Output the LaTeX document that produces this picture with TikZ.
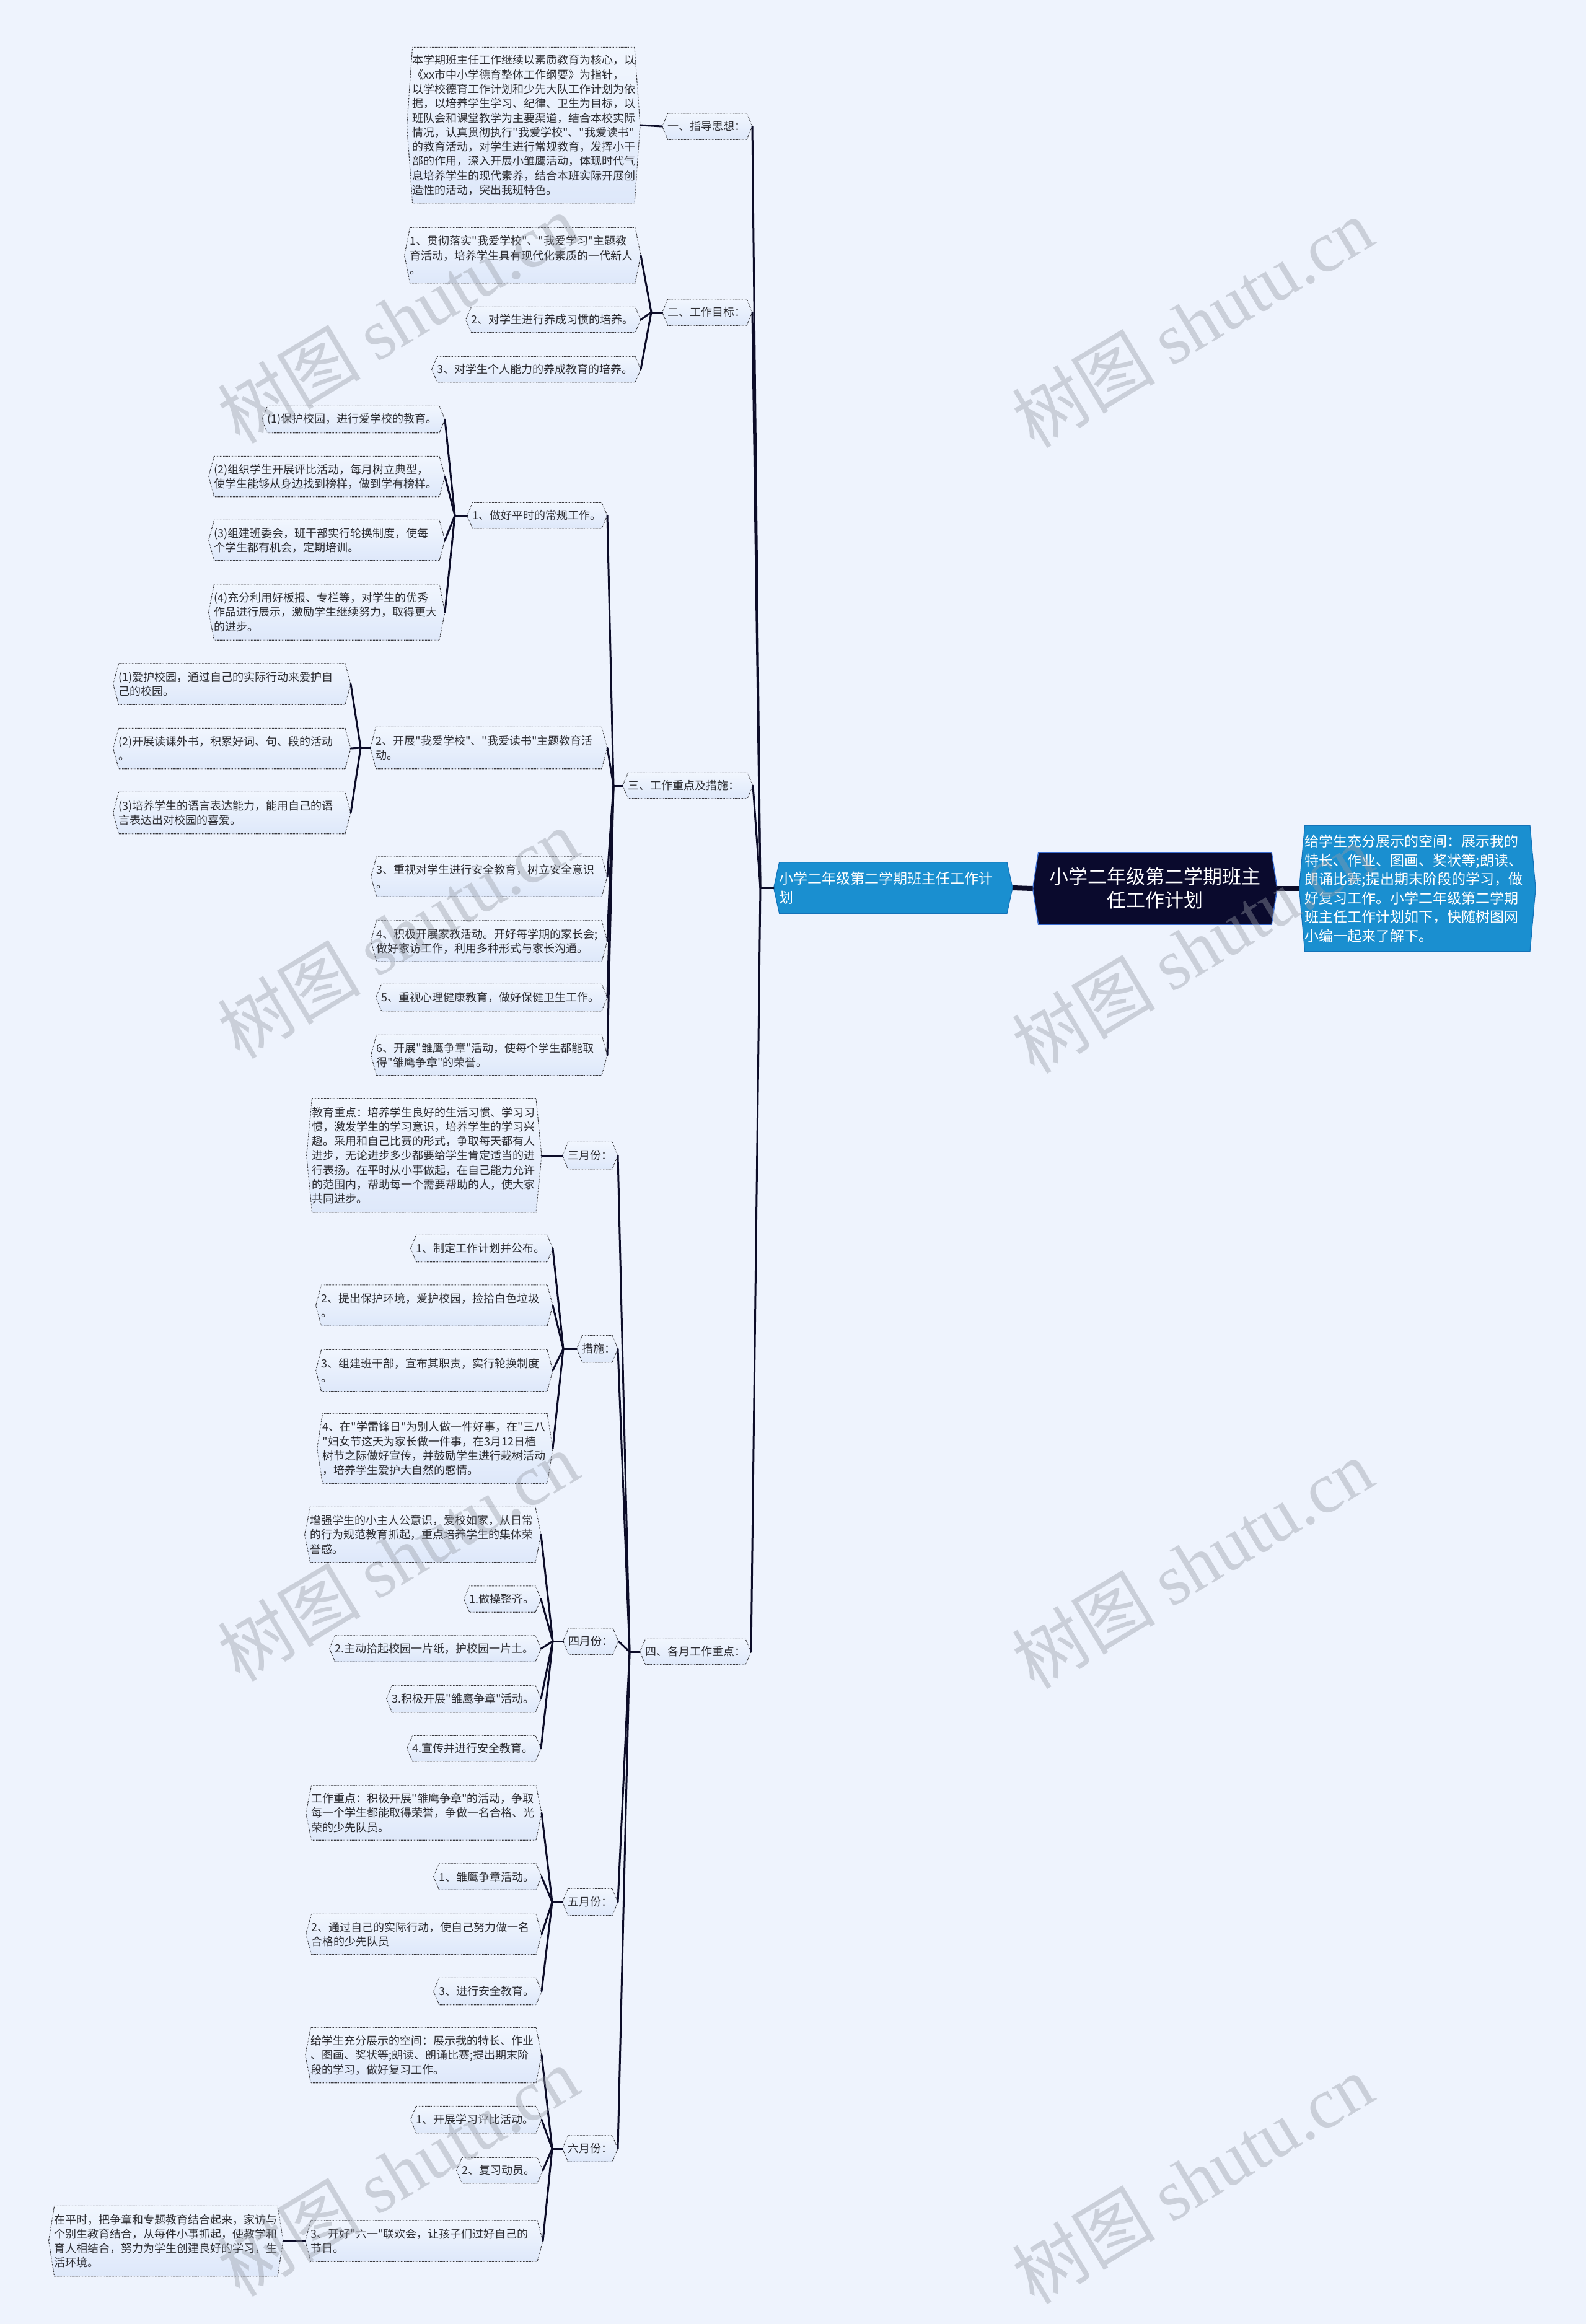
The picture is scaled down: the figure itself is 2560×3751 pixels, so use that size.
\documentclass[tikz,border=0pt]{standalone}
\usepackage{fontspec}
\setmainfont{Noto Sans CJK SC}[Ligatures=TeXOff]
\newfontfamily\wmserif{Liberation Serif}
\definecolor{bgc}{RGB}{238,243,253}
\definecolor{boxtop}{RGB}{241,246,254}
\definecolor{boxbot}{RGB}{222,232,250}
\definecolor{boxline}{RGB}{55,55,60}
\definecolor{txt}{RGB}{45,45,50}
\definecolor{conncol}{RGB}{12,12,40}
\definecolor{rootfill}{RGB}{10,10,45}
\definecolor{rootline}{RGB}{60,110,210}
\definecolor{bluefill}{RGB}{26,143,208}
\definecolor{blueline}{RGB}{20,115,185}
\definecolor{wmgray}{RGB}{150,155,165}
\pgfdeclarelayer{bglayer}
\pgfdeclarelayer{shapelayer}
\pgfdeclarelayer{toplayer}
\pgfsetlayers{bglayer,shapelayer,main,toplayer}
\tikzset{
 box/.style={shape=rectangle, inner sep=0pt, align=left, text=txt, font=\fontsize{18}{23.3}\selectfont, anchor=east},
 rootnode/.style={shape=rectangle, inner sep=0pt, align=center, text=white, font=\fontsize{31}{38}\selectfont, anchor=east},
 bluenode/.style={shape=rectangle, inner sep=0pt, align=left, text=white, font=\fontsize{23}{30.5}\selectfont, anchor=east},
 boxshape/.style={draw=boxline, dash pattern=on 1.2pt off 1.2pt, line width=1.1pt, top color=boxtop, bottom color=boxbot},
 rootshape/.style={draw=rootline, line width=1.5pt, fill=rootfill},
 blueshape/.style={draw=blueline, line width=1.2pt, fill=bluefill},
 connline/.style={draw=conncol, line width=3pt, line cap=round},
 bigconn/.style={draw=conncol, line width=8pt},
 wm/.style={text=wmgray, opacity=0.4, inner sep=0pt, font=\fontsize{116}{116}\selectfont},
}
\newcommand\hx[7][box]{%
  \pgfmathsetmacro\hxw{#4-#3-18}%
  \pgfmathsetmacro\hxr{#4-9}%
  \node[#1, minimum width=\hxw pt, text width=\hxw pt, minimum height=#6pt] (#2) at (\hxr,#5) {#7};%
}
\newcommand\hexpath[2]{%
  \draw[#2] (#1.north west) -- (#1.north east) -- ([xshift=9pt]#1.east) -- (#1.south east) -- (#1.south west) -- ([xshift=-9pt]#1.west) -- cycle;%
}
\newcommand\fan[3]{%
  \draw[connline] ([xshift=-9pt]#1.west) -- (#2);%
  \foreach \c in {#3} {\draw[connline] (#2) -- ([xshift=9pt]\c.east);}%
}
\def\boxnames{t1,t2,t3,t4,g1,m1,m2,m3,s1,s1a,s1b,s1c,s1d,s2,s2a,s2b,s2c,s3,s4,s5,s6,mar,mar1,cs,cs1,cs2,cs3,cs4,apr,apr0,apr1,apr2,apr3,apr4,may,may0,may1,may2,may3,jun,jun0,jun1,jun2,jun3,jun3a}
\begin{document}
\begin{tikzpicture}[x=1pt,y=-1pt]
\begin{pgfonlayer}{bglayer}
\fill[bgc] (0,0) rectangle (2560,3751);
\end{pgfonlayer}
\useasboundingbox (0,0) rectangle (2560,3751);

% level 1
\hx[rootnode]{root}{1667}{2061}{1434}{116}{小学二年级第二学期班主\\任工作计划}
\hx[bluenode]{lblue}{1249}{1634}{1433}{82}{小学二年级第二学期班主任工作计\\划}
\hx[bluenode]{rblue}{2097}{2478}{1434}{203}{给学生充分展示的空间：展示我的\\特长、作业、图画、奖状等;朗读、\\朗诵比赛;提出期末阶段的学习，做\\好复习工作。小学二年级第二学期\\班主任工作计划如下，快随树图网\\小编一起来了解下。}

% level 2
\hx{t1}{1069}{1214}{204}{42}{一、指导思想：}
\hx{t2}{1069}{1214}{504}{42}{二、工作目标：}
\hx{t3}{1005}{1215}{1268}{41}{三、工作重点及措施：}
\hx{t4}{1033}{1212}{2666}{41}{四、各月工作重点：}

% section 1
\hx{g1}{657}{1033}{202}{251}{本学期班主任工作继续以素质教育为核心，以\\《xx市中小学德育整体工作纲要》为指针，\\以学校德育工作计划和少先大队工作计划为依\\据，以培养学生学习、纪律、卫生为目标，以\\班队会和课堂教学为主要渠道，结合本校实际\\情况，认真贯彻执行"我爱学校"、"我爱读书"\\的教育活动，对学生进行常规教育，发挥小干\\部的作用，深入开展小雏鹰活动，体现时代气\\息培养学生的现代素养，结合本班实际开展创\\造性的活动，突出我班特色。}

% section 2
\hx{m1}{653}{1034}{412}{89}{1、贯彻落实"我爱学校"、"我爱学习"主题教\\育活动，培养学生具有现代化素质的一代新人\\。}
\hx{m2}{752}{1034}{516}{41}{2、对学生进行养成习惯的培养。}
\hx{m3}{697}{1034}{596}{41}{3、对学生个人能力的养成教育的培养。}

% section 3
\hx{s1}{754}{980}{832}{41}{1、做好平时的常规工作。}
\hx{s1a}{423}{718}{677}{43}{(1)保护校园，进行爱学校的教育。}
\hx{s1b}{337}{718}{769}{65}{(2)组织学生开展评比活动，每月树立典型，\\使学生能够从身边找到榜样，做到学有榜样。}
\hx{s1c}{337}{718}{872}{65}{(3)组建班委会，班干部实行轮换制度，使每\\个学生都有机会，定期培训。}
\hx{s1d}{337}{718}{988}{90}{(4)充分利用好板报、专栏等，对学生的优秀\\作品进行展示，激励学生继续努力，取得更大\\的进步。}
\hx{s2}{598}{980}{1207}{67}{2、开展"我爱学校"、"我爱读书"主题教育活\\动。}
\hx{s2a}{183}{566}{1104}{66}{(1)爱护校园，通过自己的实际行动来爱护自\\己的校园。}
\hx{s2b}{183}{566}{1208}{65}{(2)开展读课外书，积累好词、句、段的活动\\。}
\hx{s2c}{183}{566}{1312}{67}{(3)培养学生的语言表达能力，能用自己的语\\言表达出对校园的喜爱。}
\hx{s3}{599}{980}{1415}{64}{3、重视对学生进行安全教育，树立安全意识\\。}
\hx{s4}{599}{980}{1519}{66}{4、积极开展家教活动。开好每学期的家长会;\\做好家访工作，利用多种形式与家长沟通。}
\hx{s5}{607}{980}{1610}{43}{5、重视心理健康教育，做好保健卫生工作。}
\hx{s6}{599}{980}{1703}{65}{6、开展"雏鹰争章"活动，使每个学生都能取\\得"雏鹰争章"的荣誉。}

% section 4
\hx{mar}{908}{997}{1865}{43}{三月份：}
\hx{mar1}{495}{874}{1865}{183}{教育重点：培养学生良好的生活习惯、学习习\\惯，激发学生的学习意识，培养学生的学习兴\\趣。采用和自己比赛的形式，争取每天都有人\\进步，无论进步多少都要给学生肯定适当的进\\行表扬。在平时从小事做起，在自己能力允许\\的范围内，帮助每一个需要帮助的人，使大家\\共同进步。}
\hx{cs}{931}{997}{2177}{43}{措施：}
\hx{cs1}{663}{892}{2015}{43}{1、制定工作计划并公布。}
\hx{cs2}{510}{892}{2107}{66}{2、提出保护环境，爱护校园，捡拾白色垃圾\\。}
\hx{cs3}{510}{892}{2212}{67}{3、组建班干部，宣布其职责，实行轮换制度\\。}
\hx{cs4}{512}{892}{2338}{113}{4、在"学雷锋日"为别人做一件好事，在"三八\\"妇女节这天为家长做一件事，在3月12日植\\树节之际做好宣传，并鼓励学生进行栽树活动\\，培养学生爱护大自然的感情。}
\hx{apr}{909}{998}{2649}{42}{四月份：}
\hx{apr0}{492}{873}{2477}{89}{增强学生的小主人公意识，爱校如家，从日常\\的行为规范教育抓起，重点培养学生的集体荣\\誉感。}
\hx{apr1}{749}{873}{2581}{42}{1.做操整齐。}
\hx{apr2}{532}{873}{2661}{42}{2.主动拾起校园一片纸，护校园一片土。}
\hx{apr3}{624}{873}{2742}{43}{3.积极开展"雏鹰争章"活动。}
\hx{apr4}{657}{873}{2822}{41}{4.宣传并进行安全教育。}
\hx{may}{908}{997}{3070}{43}{五月份：}
\hx{may0}{494}{874}{2926}{88}{工作重点：积极开展"雏鹰争章"的活动，争取\\每一个学生都能取得荣誉，争做一名合格、光\\荣的少先队员。}
\hx{may1}{700}{874}{3029}{42}{1、雏鹰争章活动。}
\hx{may2}{494}{874}{3122}{65}{2、通过自己的实际行动，使自己努力做一名\\合格的少先队员}
\hx{may3}{700}{874}{3214}{43}{3、进行安全教育。}
\hx{jun}{908}{997}{3468}{42}{六月份：}
\hx{jun0}{493}{874}{3317}{89}{给学生充分展示的空间：展示我的特长、作业\\、图画、奖状等;朗读、朗诵比赛;提出期末阶\\段的学习，做好复习工作。}
\hx{jun1}{663}{874}{3421}{43}{1、开展学习评比活动。}
\hx{jun2}{737}{876}{3503}{41}{2、复习动员。}
\hx{jun3}{493}{876}{3617}{66}{3、开好"六一"联欢会，让孩子们过好自己的\\节日。}
\hx{jun3a}{79}{457}{3617}{113}{在平时，把争章和专题教育结合起来，家访与\\个别生教育结合，从每件小事抓起，使教学和\\育人相结合，努力为学生创建良好的学习，生\\活环境。}

% shapes
\begin{pgfonlayer}{shapelayer}
\foreach \n in \boxnames {\hexpath{\n}{boxshape}}
\hexpath{root}{rootshape}
\hexpath{lblue}{blueshape}
\hexpath{rblue}{blueshape}
\end{pgfonlayer}

% junctions
\coordinate (jm) at (1227,1433);
\coordinate (j2) at (1051,504);
\coordinate (j3) at (990,1268);
\coordinate (j31) at (734,832);
\coordinate (j32) at (582,1207);
\coordinate (j4) at (1016,2666);
\coordinate (jcs) at (909,2177);
\coordinate (japr) at (892,2649);
\coordinate (jmay) at (891,3070);
\coordinate (jjun) at (891,3468);

% connectors
\draw[bigconn] ([xshift=-9pt]root.west) -- ([xshift=9pt]lblue.east);
\draw[bigconn] ([xshift=9pt]root.east) -- ([xshift=-9pt]rblue.west);
\fan{lblue}{jm}{t1,t2,t3,t4}
\draw[connline] ([xshift=-9pt]t1.west) -- ([xshift=9pt]g1.east);
\fan{t2}{j2}{m1,m2,m3}
\fan{t3}{j3}{s1,s2,s3,s4,s5,s6}
\fan{s1}{j31}{s1a,s1b,s1c,s1d}
\fan{s2}{j32}{s2a,s2b,s2c}
\fan{t4}{j4}{mar,cs,apr,may,jun}
\draw[connline] ([xshift=-9pt]mar.west) -- ([xshift=9pt]mar1.east);
\fan{cs}{jcs}{cs1,cs2,cs3,cs4}
\fan{apr}{japr}{apr0,apr1,apr2,apr3,apr4}
\fan{may}{jmay}{may0,may1,may2,may3}
\fan{jun}{jjun}{jun0,jun1,jun2,jun3}
\draw[connline] ([xshift=-9pt]jun3.west) -- ([xshift=9pt]jun3a.east);

% watermarks
\begin{pgfonlayer}{toplayer}
\foreach \px/\py [count=\i] in {642/514,1924/521,642/1507,1924/1531,642/2512,1924/2524,642/3505,1924/3517}
  \node[wm, rotate=31] (wm\i) at (\px,\py) {树图 {\wmserif shutu.cn}};
\end{pgfonlayer}
\end{tikzpicture}
\end{document}
